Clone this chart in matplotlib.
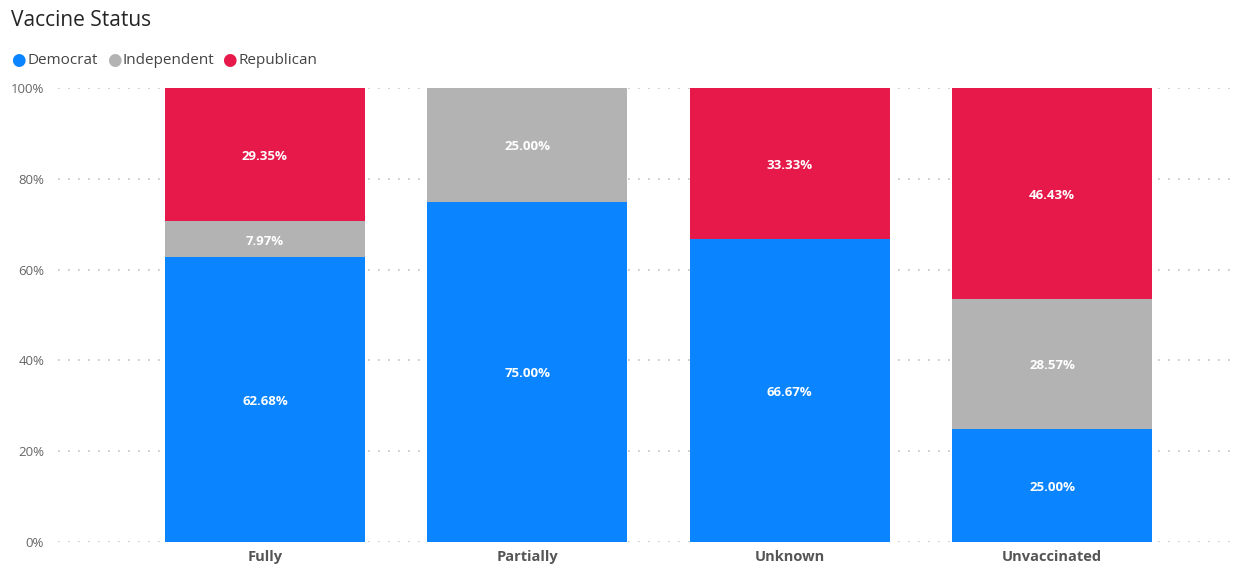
import matplotlib.pyplot as plt
import numpy as np

# -------------------------------------------------
# DATA
# -------------------------------------------------

statuses = ["Fully", "Partially", "Unknown", "Unvaccinated"]
parties = ["Democrat", "Independent", "Republican"]

democrat = [62.68, 75.00, 66.67, 25.00]
independent = [7.97, 25.00, 0.0, 28.57]
republican = [29.35, 0.0, 33.33, 46.43]

colors = ["#0A84FF", "#B3B3B3", "#E6194A"]

# -------------------------------------------------
# CHART
# -------------------------------------------------

plt.rcParams["font.family"] = ["Open Sans", "DejaVu Sans"]

fig = plt.figure(figsize=(12.44, 5.68), dpi=100)
ax = fig.add_axes([58 / 1244, 1 - 542 / 568, (1234 - 58) / 1244, (542 - 88) / 568])

x = np.arange(len(statuses))
bottom = np.zeros(len(statuses))
width = 200 / 262.5

for name, values, color in zip(parties, [democrat, independent, republican], colors):
    values = np.array(values)
    ax.bar(x, values, width, bottom=bottom, color=color, label=name, zorder=2)
    for xi, b, v in zip(x, bottom, values):
        if v > 0:
            ax.text(xi, b + v / 2 - 0.4, f"{v:.2f}%", ha="center", va="center",
                    color="white", fontsize=9.5, fontweight="bold", zorder=3)
    bottom += values

ax.set_xlim(-207 / 262.5, 3 + 182 / 262.5)
ax.set_ylim(0, 100)

ax.set_yticks([0, 20, 40, 60, 80, 100])
ax.set_yticklabels([f"{t}%" for t in [0, 20, 40, 60, 80, 100]])
ax.yaxis.grid(True, linestyle=(0, (1, 5)), color="#C0C0C0", linewidth=1.2, zorder=0)

ax.set_xticks(x)
ax.set_xticklabels(statuses, fontweight="bold", color="#555555", fontsize=10.5)

ax.tick_params(axis="y", length=0, pad=10, labelsize=9.5, labelcolor="#666666")
ax.tick_params(axis="x", length=0, pad=6)

for spine in ax.spines.values():
    spine.set_visible(False)

# Title and legend
fig.text(11 / 1244, 1 - 20 / 568, "Vaccine Status", fontsize=15,
         color="#252423", va="center", ha="left")

legend_x = [14, 110, 225]
for lx, name, color in zip(legend_x, parties, colors):
    fig.text((lx + 4) / 1244, 1 - 61 / 568, "\u25CF", color=color, fontsize=12,
             va="center", ha="center")
    fig.text((lx + 13) / 1244, 1 - 61 / 568, name, color="#444444", fontsize=11,
             va="center", ha="left")

fig.savefig("out.png", dpi=100)
